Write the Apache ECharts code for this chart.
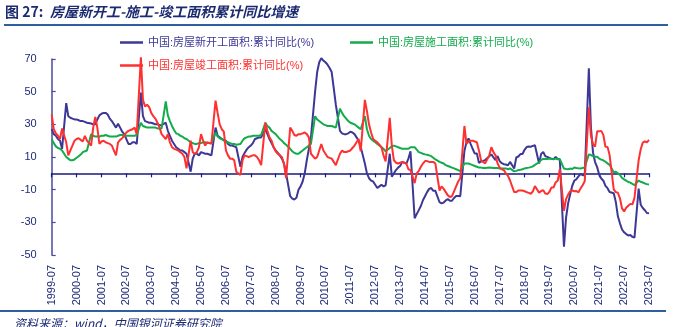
<!DOCTYPE html>
<html><head><meta charset="utf-8">
<script src="https://cdn.jsdelivr.net/npm/echarts@6/dist/echarts.min.js"></script>
<style>html,body{margin:0;padding:0;background:#fff}#c{width:676px;height:327px}</style>
</head><body><div id="c"></div>
<script>
// Monthly categories 1999-07 .. 2023-07 (January has no cumulative data)
const startYear = 1999, startMonth = 7, monthCount = 289;
const categories = [];
for (let i = 0; i < monthCount; i++) {
  const t = startYear * 12 + (startMonth - 1) + i;
  const y = Math.floor(t / 12), m = t % 12 + 1;
  categories.push(y + '-' + (m < 10 ? '0' + m : m));
}
const yTicks = [-50, -30, -10, 10, 30, 50, 70];

const seriesNames = ['中国:房屋新开工面积:累计同比(%)', '中国:房屋施工面积:累计同比(%)', '中国:房屋竣工面积:累计同比(%)'];

const newStarts = [
  27, 24, 23, 21, 20, 15, null, 43, 35, 34, 33.5, 33,
  33, 32.5, 32, 32, 31.5, 31, null, 30.5, 30, 30, 33, 35.5,
  36.5, 37, 37, 36, 33.5, 32, null, 28, 30.4, 28, 25.5, 24,
  21, 18, 18, 19, 19, 18, null, 49.5, 35, 32, 31.5, 31,
  31, 30.5, 30, 30, 29.5, 29.5, null, 31, 26, 23, 20, 18,
  16, 15, 14, 14, 13, 12, null, 1, 9, 12, 12, 11,
  13, 12.5, 12, 12, 11.5, 11, null, 28, 23, 22, 21, 20.5,
  20, 18, 17, 17, 16.5, 16, null, 4, 10, 12.5, 14.5, 16,
  17, 18.5, 21, 21.5, 22, 22, null, 27, 24, 21, 18.5, 16,
  14, 12.5, 11, 9, 6, 0, null, -14, -15.5, -16, -15, -10,
  -8, -5, 0, 8, 15, 22, null, 50, 62, 68, 70.5, 69,
  68, 66.5, 64.5, 62, 52, 42, null, 26, 24.5, 24, 24, 24.5,
  25.5, 25, 24, 22, 20, 16.2, null, 6, 0, -3, -4.5, -5,
  -7, -9, -8, -7, -8, -7.3, null, 12, -2, 0, 2, 3.5,
  4.5, 7, 6.5, 6, 9, 13.5, null, -27.5, -25, -22.5, -20, -16.5,
  -14, -11.5, -9.5, -9, -10.7, -10.7, null, -17.7, -18.4, -17.9, -16.6, -15.8,
  -16.8, -16.8, -15.1, -13.9, -13.9, -14, null, 13.7, 19.2, 21.4, 18.1, 14.9,
  12.1, 12.2, 6.4, 7.3, 7.6, 8.1, null, 10.4, 11.6, 9.8, 8.1, 10.6,
  7.5, 6.2, 5.6, 5.4, 4.9, 7.0, null, 2.9, 9.7, 10.3, 11.8, 11.8,
  14.4, 16.1, 16.4, 16.3, 16.8, 17.2, null, 6.0, 11.9, 13.1, 10.5, 10.1,
  9.5, 8.9, 8.6, 10.0, 8.6, 8.5, null, -44.9, -27.2, -18.4, -12.8, -7.6,
  -4.5, -3.6, -1.9, -0.4, -1.1, -1.2, null, 64.3, 28.2, 12.8, 6.9, 3.8,
  -0.9, -3.2, -4.5, -7.7, -9.1, -11.4, null, -12.2, -17.5, -26.3, -30.6, -34.4,
  -36.1, -37.2, -38.0, -37.8, -38.9, -39.4, null, -9.4, -19.2, -21.2, -22.6, -24.3, -24.5
];

const underConstruction = [
  21, 18.5, 16.5, 15.5, 15, 14, null, 10, 9, 8, 8, 8.5,
  9.5, 10.5, 11.5, 13, 13.5, 14, null, 24, 23, 22.5, 22.5, 22.5,
  23, 23, 23.5, 23, 22.5, 22.5, null, 22.5, 23, 23.5, 23.5, 23,
  23, 23, 23, 23, 23, 23.5, null, 31, 29, 28.5, 28, 28,
  28, 28, 28, 27.5, 27.5, 27.5, null, 44, 35.5, 32, 29, 26.5,
  24.5, 24, 23, 22.5, 21.5, 21, null, 19, 18.5, 18, 18, 18.5,
  18.5, 19, 19, 18.5, 18.5, 18.5, null, 25, 22.5, 21.5, 21, 20,
  19.5, 19, 18.5, 18, 18, 17.5, null, 18, 20, 21.5, 22, 22.5,
  22.5, 23, 23, 23, 23, 23.5, null, 31, 29, 28, 26, 25,
  24, 22.5, 21, 20, 18.5, 17.5, null, 15, 13.5, 12.5, 12, 12,
  13, 14, 15, 16, 17, 18, null, 35, 33, 32, 31, 30,
  29.5, 29, 29, 29, 28.5, 28, null, 39.5, 37, 35, 33.5, 32,
  31, 30.5, 30, 29, 28, 27, null, 35, 27, 23, 21, 20,
  19, 18, 17, 16, 15, 13.5, null, 15.5, 16.5, 17, 16.5, 16,
  15.5, 15, 15, 15, 15, 16, null, 16, 14.5, 13, 12.5, 12,
  11.6, 11.4, 11, 10.5, 9.5, 8.5, null, 7, 6.5, 6, 5, 4.5,
  4, 3.5, 3, 2.5, 2, 1.3, null, 6, 6, 6, 5.5, 5,
  4.5, 4, 3.5, 3.5, 3.3, 3.2, null, 3.5, 3.4, 3.3, 3.2, 3.2,
  3, 3, 3, 3, 2.5, 3, null, 1.2, 1.5, 2, 2.2, 2.5,
  3, 3.3, 3.5, 3.8, 4.3, 5.2, null, 6.8, 8.2, 8.8, 8.8, 8.8,
  9.0, 8.8, 8.7, 9.0, 8.7, 8.7, null, 2.9, 2.6, 2.5, 2.9, 2.6,
  3.6, 3.3, 3.1, 3.0, 3.2, 3.7, null, 11.6, 11.2, 10.5, 10.1, 10.2,
  9.0, 8.4, 7.9, 7.1, 6.1, 5.2, null, 0.7, 1.0, 0.0, -1.0, -2.8,
  -3.7, -4.5, -5.3, -5.7, -6.5, -7.2, null, -4.4, -5.2, -5.6, -6.2, -6.6, -6.8
];

const completions = [
  36, 27, 24.5, 23, 21, 27.5, null, 19, 11, 14, 17, 20,
  21, 21.5, 20.5, 19.5, 23, 20, null, 17, 28, 34.5, 28, 18,
  19.5, 20, 19, 18.5, 18, 17, null, 11, 19, 20.5, 21.5, 23,
  25, 26, 26.5, 27, 28, 24, null, 71, 45, 41, 42, 40.5,
  37, 35, 33.5, 31, 28, 24, null, 21, 24, 19, 16, 15,
  14.5, 14, 13, 12, 10, 3, null, 20, 13, 12, 13, 16,
  24, 20, 17, 19, 18.5, 18, null, 44.5, 37, 30, 27, 25.5,
  14, 11, 9, 9, 8, 1, null, -1, 8, 11, 10.5, 10,
  10.5, 11, 11, 10, 8, 5, null, 31, 26, 22, 20, 16,
  13.5, 12, 11, 10, 6, -3, null, 28, 26, 23.5, 23, 24,
  24, 24.5, 25, 24, 22, 12, null, 9, 10, 14, 18, 14,
  12, 10, 9.5, 9, 7, 5, null, 12, 14, 13, 13, 13.5,
  14, 15.5, 17, 19, 21, 13.5, null, 45, 38, 30, 25, 21,
  20, 19, 17.5, 16, 11, 7.3, null, 34, 17, 8, 6.5, 6,
  6.5, 7, 6.5, 6, 2.5, 2, null, -6, 0, 1.5, 4, 6,
  7.5, 7.5, 7, 7, 7, 6, null, -10.5, -8, -9.5, -11.5, -13.5,
  -14.5, -14, -11, -8, -5, -3, null, 29, 18, 19.5, 20, 20,
  19.5, 19, 14, 8, 7, 6.1, null, 11, 16, 13, 11, 6,
  3.5, 2.5, 2, 0, -1.5, -4.4, null, -11.5, -11.5, -10.5, -10.5, -10.5,
  -11, -11.5, -12, -12.5, -11, -7.8, null, -11.9, -10.8, -10.3, -12.4, -12.7,
  -11.3, -8.6, -8.6, -5.5, -4.5, 2.6, null, -22.9, -15.8, -13, -11, -10.5,
  -11.0, -10.8, -11.6, -9.2, -7.3, -4.9, null, 40.4, 22.9, 17.9, 16.4, 25.7,
  25.7, 26.0, 23.4, 16.3, 16.2, 11.2, null, -9.8, -11.5, -11.9, -15.3, -21.5,
  -23.3, -21.1, -19.9, -18.7, -19.0, -15.0, null, 8.0, 14.7, 18.8, 19.6, 19.0, 20.5
];

const colors = ['#3d3896', '#13ab4b', '#ff3030'];
const navy = '#1f2a7a';
const FONT = '"Liberation Sans", "Noto Sans CJK SC", sans-serif';

const chart = echarts.init(document.getElementById('c'), null, {renderer: 'canvas'});

function legendAt(name, color, left, top) {
  return {
    data: [name], left: left, top: top, orient: 'horizontal',
    icon: 'rect', itemWidth: 23, itemHeight: 2.5, itemGap: 4,
    textStyle: {color: color, fontSize: 11, fontFamily: FONT, padding: [0, 0, 0, 0]},
    selectedMode: false, padding: 0
  };
}

chart.setOption({
  animation: false,
  backgroundColor: '#ffffff',
  color: colors,
  grid: {left: 51.7, right: 27, top: 59, bottom: 72, containLabel: false},
  legend: [
    legendAt(seriesNames[0], colors[0], 120, 37),
    legendAt(seriesNames[1], colors[1], 350, 37),
    legendAt(seriesNames[2], colors[2], 120, 60)
  ],
  xAxis: [
    {
      type: 'category', data: categories, boundaryGap: false, position: 'bottom',
      axisLine: {show: false, onZero: false}, axisTick: {show: false},
      axisLabel: {interval: 11, rotate: 90, margin: 10, color: navy, fontSize: 11, fontFamily: FONT},
      splitLine: {show: false}
    },
    {
      type: 'category', data: categories, boundaryGap: false, position: 'bottom',
      axisLine: {show: true, onZero: true, lineStyle: {color: '#1a1a80', width: 1.5}},
      axisTick: {show: true, interval: 11, length: 4, lineStyle: {color: '#1a1a80', width: 1.2}},
      axisLabel: {show: false}, splitLine: {show: false}
    }
  ],
  yAxis: {
    type: 'value', min: yTicks[0], max: yTicks[yTicks.length - 1], interval: 20,
    axisLine: {show: true, onZero: false, lineStyle: {color: '#4a4aa0', width: 1.5}},
    axisTick: {show: true, inside: true, length: 4, lineStyle: {color: '#4a4aa0', width: 1.2}},
    axisLabel: {color: navy, fontSize: 11, fontFamily: FONT, margin: 15},
    splitLine: {show: false}
  },
  series: [
    {name: seriesNames[0], type: 'line', data: newStarts, showSymbol: false, connectNulls: true, clip: false,
     lineStyle: {width: 2, color: colors[0]}, itemStyle: {color: colors[0]}},
    {name: seriesNames[1], type: 'line', data: underConstruction, showSymbol: false, connectNulls: true, clip: false,
     lineStyle: {width: 2, color: colors[1]}, itemStyle: {color: colors[1]}},
    {name: seriesNames[2], type: 'line', data: completions, showSymbol: false, connectNulls: true, clip: false,
     lineStyle: {width: 2, color: colors[2]}, itemStyle: {color: colors[2]}}
  ],
  graphic: [
    {type: 'text', left: 5, top: 5, style: {
      text: '{a|图 27:}  {b|房屋新开工-施工-竣工面积累计同比增速}',
      rich: {
        a: {fill: '#1c2a70', font: 'bold 14px "Noto Sans CJK SC", sans-serif'},
        b: {fill: '#1c2a70', font: 'italic bold 14px "Noto Sans CJK SC", sans-serif'}
      }
    }},
    {type: 'line', shape: {x1: 4, y1: 25, x2: 668, y2: 25}, style: {stroke: '#2f5f9f', lineWidth: 2}},
    {type: 'line', shape: {x1: 0, y1: 311, x2: 666, y2: 311}, style: {stroke: '#2f5f9f', lineWidth: 2}},
    {type: 'text', left: 14, top: 317, style: {text: '资料来源：wind，中国银河证券研究院', fill: '#1c2a70', font: 'italic 12px "Noto Sans CJK SC", sans-serif'}}
  ]
});
</script>
</body></html>
